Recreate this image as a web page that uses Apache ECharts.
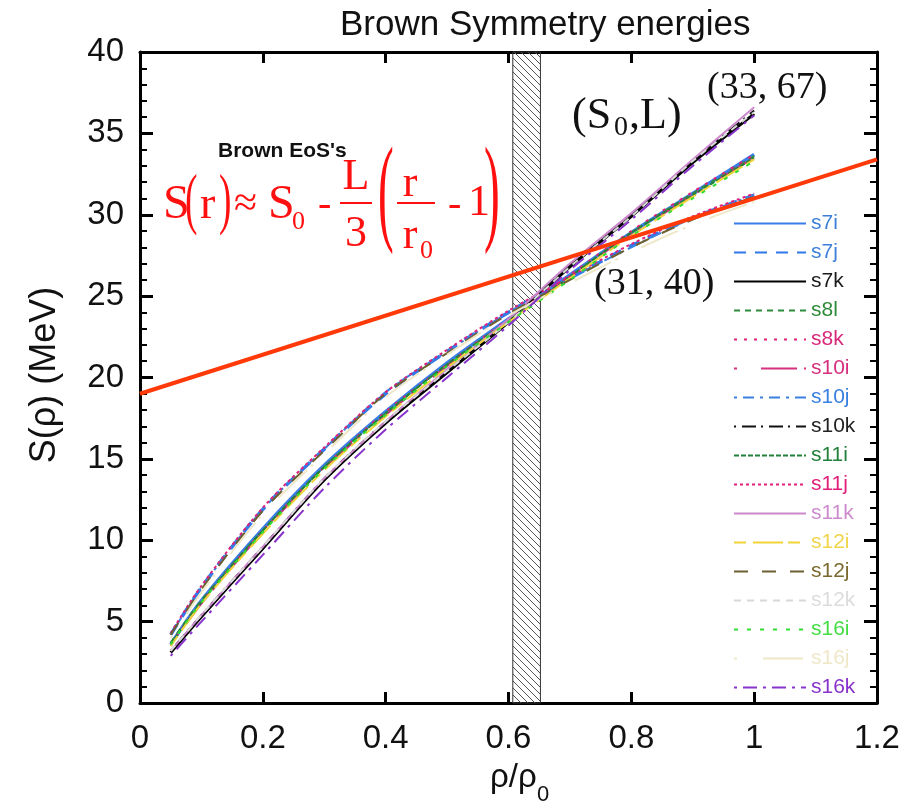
<!DOCTYPE html>
<html>
<head>
<meta charset="utf-8">
<script src="https://cdn.jsdelivr.net/npm/echarts@6/dist/echarts.min.js"></script>
<style>
  html, body { margin: 0; padding: 0; background: #fff; }
  #chart { width: 914px; height: 806px; }
</style>
</head>
<body>
<div id="chart"></div>
<script>
// density points rho/rho0
const xs = [0.05, 0.1, 0.2, 0.3, 0.4, 0.5, 0.6, 0.7, 0.8, 0.9, 1.0];

// symmetry energies S(rho) in MeV
const s7i = [3.6, 6.3, 10.7, 14.6, 17.9, 20.9, 23.6, 26.3, 28.9, 31.3, 33.7];
const s7j = [4.2, 7.1, 11.9, 15.6, 19.0, 21.6, 24.0, 26.1, 28.1, 29.8, 31.2];
const s7k = [3.1, 5.3, 9.5, 13.7, 17.2, 20.3, 23.4, 26.8, 29.9, 33.2, 36.2];
const s8l = [3.7, 6.3, 10.6, 14.5, 17.8, 20.8, 23.5, 26.2, 28.9, 31.3, 33.6];
const s8k = [3.6, 6.2, 10.6, 14.5, 17.9, 20.8, 23.6, 26.3, 29.0, 31.4, 33.7];
const s10i = [3.5, 6.1, 10.5, 14.4, 17.7, 20.7, 23.5, 26.2, 28.8, 31.2, 33.5];
const s10j = [4.2, 7.1, 11.9, 15.6, 19.1, 21.6, 24.0, 26.1, 28.0, 29.8, 31.2];
const s10k = [3.2, 5.4, 9.6, 13.8, 17.3, 20.4, 23.5, 26.9, 30.0, 33.3, 36.4];
const s11i = [3.6, 6.2, 10.6, 14.5, 17.8, 20.8, 23.5, 26.2, 28.9, 31.2, 33.5];
const s11j = [4.3, 7.2, 12.0, 15.7, 19.1, 21.7, 24.1, 26.2, 28.2, 29.9, 31.3];
const s11k = [3.2, 5.4, 9.6, 13.8, 17.3, 20.5, 23.6, 27.0, 30.1, 33.4, 36.6];
const s12i = [3.5, 6.1, 10.4, 14.3, 17.6, 20.6, 23.4, 26.1, 28.7, 31.1, 33.4];
const s12j = [4.2, 7.0, 11.8, 15.5, 19.0, 21.5, 23.9, 26.0, 28.0, 29.7, 31.1];
const s12k = [3.2, 5.4, 9.6, 13.8, 17.3, 20.4, 23.4, 26.8, 29.9, 33.3, 36.3];
const s16i = [3.6, 6.2, 10.5, 14.4, 17.7, 20.7, 23.4, 26.0, 28.7, 31.0, 33.3];
const s16j = [4.0, 6.8, 11.6, 15.3, 18.8, 21.4, 23.8, 25.8, 27.7, 29.4, 30.8];
const s16k = [2.9, 5.0, 9.1, 13.2, 16.8, 20.0, 23.2, 26.6, 29.7, 33.0, 36.1];

// linear approximation S0 - L/3 (r/r0 - 1) drawn in red
const redX = [0, 1.2];
const redY = [19.0, 33.4];

// hatched density band
const bandX = [0.607, 0.652];

const curves = [
  { name: "s7i", data: s7i, color: "#3a7de8", text: "#3d7fd9", width: 3.5, type: "solid" },
  { name: "s7j", data: s7j, color: "#2f78ea", text: "#3d7fd9", width: 3.5, type: [12, 9] },
  { name: "s7k", data: s7k, color: "#000000", text: "#1a1a1a", width: 3, type: "solid" },
  { name: "s8l", data: s8l, color: "#2e8b3a", text: "#2e8b3a", width: 2, type: [6, 5] },
  { name: "s8k", data: s8k, color: "#e0207a", text: "#d8287a", width: 2, type: [3, 7] },
  { name: "s10i", data: s10i, color: "#d6307e", text: "#d6307e", width: 2, type: [3, 24, 36, 7] },
  { name: "s10j", data: s10j, color: "#3a80e0", text: "#3a80e0", width: 2, type: [3, 6, 11, 6] },
  { name: "s10k", data: s10k, color: "#111111", text: "#222222", width: 2, type: [2, 6, 14, 5] },
  { name: "s11i", data: s11i, color: "#22803a", text: "#22803a", width: 2, type: [5, 2] },
  { name: "s11j", data: s11j, color: "#e0207a", text: "#e0207a", width: 2, type: [3, 3] },
  { name: "s11k", data: s11k, color: "#cc88cc", text: "#cc8ccc", width: 2, type: "solid" },
  { name: "s12i", data: s12i, color: "#f0d43a", text: "#f0d44a", width: 2, type: [12, 7, 30, 5] },
  { name: "s12j", data: s12j, color: "#6e6030", text: "#7a6a30", width: 2, type: [14, 14] },
  { name: "s12k", data: s12k, color: "#d8d8d8", text: "#dcdcdc", width: 2, type: [7, 6] },
  { name: "s16i", data: s16i, color: "#33dd33", text: "#44dd44", width: 2, type: [4, 9] },
  { name: "s16j", data: s16j, color: "#eee8c8", text: "#eee8c8", width: 2, type: [3, 26, 40, 5] },
  { name: "s16k", data: s16k, color: "#8833cc", text: "#8833cc", width: 2, type: [3, 6, 14, 6] },
];

function makeHatch() {
  const c = document.createElement("canvas");
  c.width = 7;
  c.height = 7;
  const ctx = c.getContext("2d");
  ctx.strokeStyle = "#555";
  ctx.lineWidth = 1;
  ctx.beginPath();
  ctx.moveTo(0, 0);
  ctx.lineTo(7, 7);
  ctx.stroke();
  return c;
}

const serif = "Liberation Serif";
const sans = "Liberation Sans";
const red = "#ff1010";

function txt(x, y, s, size, color, align, sx) {
  return {
    type: "text",
    x: x,
    y: y,
    z: 50,
    scaleX: sx || 1,
    style: {
      text: s,
      font: size + "px '" + serif + "'",
      fill: color || red,
      textAlign: align || "left",
      textVerticalAlign: "middle",
    },
  };
}

function seg(x1, y1, x2, y2) {
  return {
    type: "line",
    z: 50,
    shape: { x1: x1, y1: y1, x2: x2, y2: y2 },
    style: { stroke: red, lineWidth: 2 },
  };
}

const chart = echarts.init(document.getElementById("chart"));

const series = curves.map((c) => ({
  name: c.name,
  type: "line",
  symbol: "none",
  smooth: 0.3,
  data: xs.map((x, i) => [x, c.data[i]]),
  lineStyle: { color: c.color, width: c.width, type: c.type },
  itemStyle: { color: c.color },
  z: 3,
}));

series.push({
  name: "linear",
  type: "line",
  symbol: "none",
  data: redX.map((x, i) => [x, redY[i]]),
  lineStyle: { color: "#ff3a08", width: 4 },
  z: 5,
  markArea: {
    silent: true,
    z: 1,
    itemStyle: {
      color: { image: makeHatch(), repeat: "repeat" },
      borderColor: "#333",
      borderWidth: 1,
    },
    data: [[{ xAxis: bandX[0] }, { xAxis: bandX[1] }]],
  },
});

const option = {
  animation: false,
  backgroundColor: "#fff",
  grid: { left: 140, right: 37, top: 52, bottom: 103 },
  legend: {
    orient: "vertical",
    left: 728,
    top: 208,
    itemWidth: 72,
    itemHeight: 20,
    itemGap: 8,
    itemStyle: { opacity: 0 },
    textStyle: { fontFamily: sans, fontSize: 21, lineHeight: 20 },
    data: curves.map((c) => ({ name: c.name, textStyle: { color: c.text } })),
  },
  xAxis: [
    {
      type: "value",
      min: 0,
      max: 1.2,
      interval: 0.2,
      position: "bottom",
      axisLine: { onZero: false, lineStyle: { color: "#000", width: 3 } },
      axisTick: { inside: true, length: 11, lineStyle: { color: "#000", width: 3 } },
      axisLabel: {
        margin: 19,
        color: "#111",
        fontFamily: sans,
        fontSize: 33,
        formatter: (v) => String(+v.toFixed(1)),
      },
      splitLine: { show: false },
    },
    {
      type: "value",
      min: 0,
      max: 1.2,
      interval: 0.2,
      position: "top",
      axisLine: { onZero: false, lineStyle: { color: "#000", width: 3 } },
      axisTick: { inside: true, length: 11, lineStyle: { color: "#000", width: 3 } },
      axisLabel: { show: false },
      splitLine: { show: false },
    },
  ],
  yAxis: [
    {
      type: "value",
      min: 0,
      max: 40,
      interval: 5,
      position: "left",
      axisLine: { onZero: false, lineStyle: { color: "#000", width: 3 } },
      axisTick: { inside: true, length: 13, lineStyle: { color: "#000", width: 3 } },
      minorTick: { show: true, splitNumber: 5, length: 7, lineStyle: { color: "#000", width: 2 } },
      axisLabel: { margin: 16, color: "#111", fontFamily: sans, fontSize: 33 },
      splitLine: { show: false },
    },
    {
      type: "value",
      min: 0,
      max: 40,
      interval: 5,
      position: "right",
      axisLine: { onZero: false, lineStyle: { color: "#000", width: 3 } },
      axisTick: { inside: true, length: 13, lineStyle: { color: "#000", width: 3 } },
      minorTick: { show: true, splitNumber: 5, length: 7, lineStyle: { color: "#000", width: 2 } },
      axisLabel: { show: false },
      splitLine: { show: false },
    },
  ],
  series: series,
  graphic: [
    // title and axis names
    {
      type: "text", x: 340, y: 25,
      style: { text: "Brown Symmetry energies", font: "35px '" + sans + "'", fill: "#111", textAlign: "left", textVerticalAlign: "middle" },
    },
    {
      type: "text", x: 45, y: 375, rotation: Math.PI / 2,
      style: { text: "S(ρ) (MeV)", font: "36px '" + sans + "'", fill: "#111", textAlign: "center", textVerticalAlign: "middle" },
    },
    {
      type: "text", x: 490, y: 778,
      style: { text: "ρ/ρ", font: "33px '" + sans + "'", fill: "#111", textAlign: "left", textVerticalAlign: "middle" },
    },
    {
      type: "text", x: 537, y: 795,
      style: { text: "0", font: "22px '" + sans + "'", fill: "#111", textAlign: "left", textVerticalAlign: "middle" },
    },
    // annotation
    {
      type: "text", x: 218, y: 151, z: 50,
      style: { text: "Brown EoS's", font: "bold 21px '" + sans + "'", fill: "#111", textAlign: "left", textVerticalAlign: "middle" },
    },
    txt(163, 205, "S", 48),
    txt(185, 203, "(", 68, red, "left", 0.55),
    txt(200, 206, "r", 46),
    txt(219, 203, ")", 68, red, "left", 0.55),
    txt(234, 205, "≈", 42),
    txt(268, 205, "S", 48),
    txt(292, 222, "0", 26),
    txt(318, 205, "-", 40),
    txt(356, 177, "L", 44, red, "center"),
    seg(340, 203, 372, 203),
    txt(356, 234, "3", 44, red, "center"),
    txt(378, 198, "(", 118, red, "left", 0.4),
    txt(410, 184, "r", 44, red, "center"),
    seg(397, 203, 435, 203),
    txt(410, 236, "r", 44, red, "center"),
    txt(420, 251, "0", 26),
    txt(448, 205, "-", 40),
    txt(468, 203, "1", 44),
    txt(484, 198, ")", 118, red, "left", 0.4),
    // (S0,L) and parameter labels
    txt(572, 116, "(S", 44, "#111"),
    txt(614, 128, "0", 28, "#111"),
    txt(629, 116, ",L)", 44, "#111"),
    txt(707, 88, "(33, 67)", 38, "#111"),
    txt(594, 284, "(31, 40)", 38, "#111"),
  ],
};

chart.setOption(option);
</script>
</body>
</html>
